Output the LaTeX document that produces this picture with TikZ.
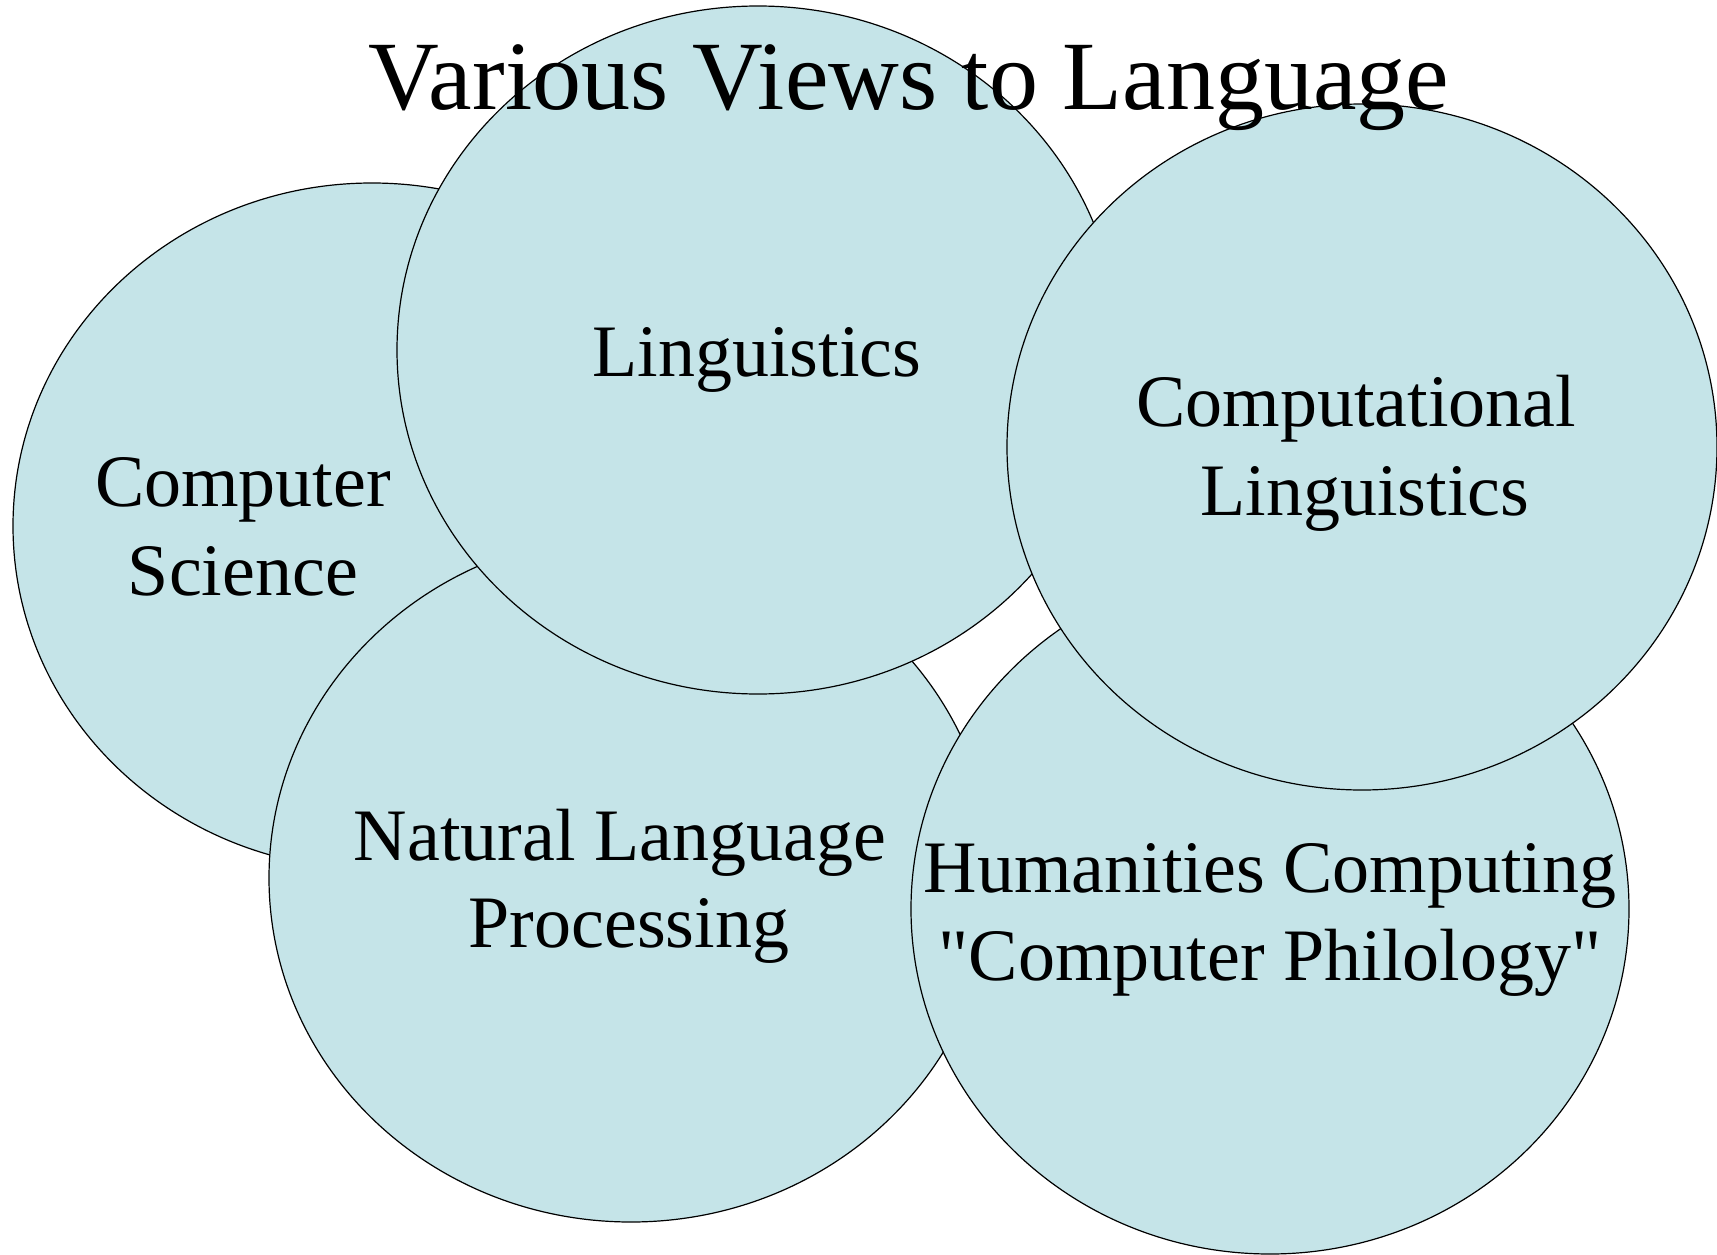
\documentclass[tikz,border=0pt]{standalone}
\usepackage{fontspec}
\setmainfont{Liberation Serif}[Ligatures=TeXOff]
\definecolor{bubble}{RGB}{197,228,232}
\begin{document}
\begin{tikzpicture}[x=1pt,y=-1pt,
  bub/.style={draw=black,line width=1.2pt,fill=bubble},
  lab/.style={anchor=base,inner sep=0pt,font=\fontsize{74}{88}\selectfont},
  ttl/.style={anchor=base,inner sep=0pt,font=\fontsize{98}{110}\selectfont}]
\useasboundingbox (0,0) rectangle (1717,1255);
% ellipses in stacking order
\path[bub] (372,526) ellipse [x radius=359,y radius=343];
\path[bub] (631,878) ellipse [x radius=362,y radius=344];
\path[bub] (758,350) ellipse [x radius=361,y radius=344];
\path[bub] (1270,909) ellipse [x radius=359,y radius=345];
\path[bub] (1362,447) ellipse [x radius=355,y radius=343];
% labels
\node[lab] (cs1) at (243,506) {Computer};
\node[lab] (cs2) at (243,595) {Science};
\node[lab] (li) at (757,376) {Linguistics};
\node[lab] (cl1) at (1356,426) {Computational};
\node[lab] (cl2) at (1365,515) {Linguistics};
\node[lab] (nl1) at (620,860) {Natural Language};
\node[lab] (nl2) at (629,947) {Processing};
\node[lab] (hc1) at (1270,892) {Humanities Computing};
\node[lab] (hc2) at (1270,980) {"Computer Philology"};
\node[ttl] (title) at (909,110) {Various Views to Language};
\end{tikzpicture}
\end{document}
